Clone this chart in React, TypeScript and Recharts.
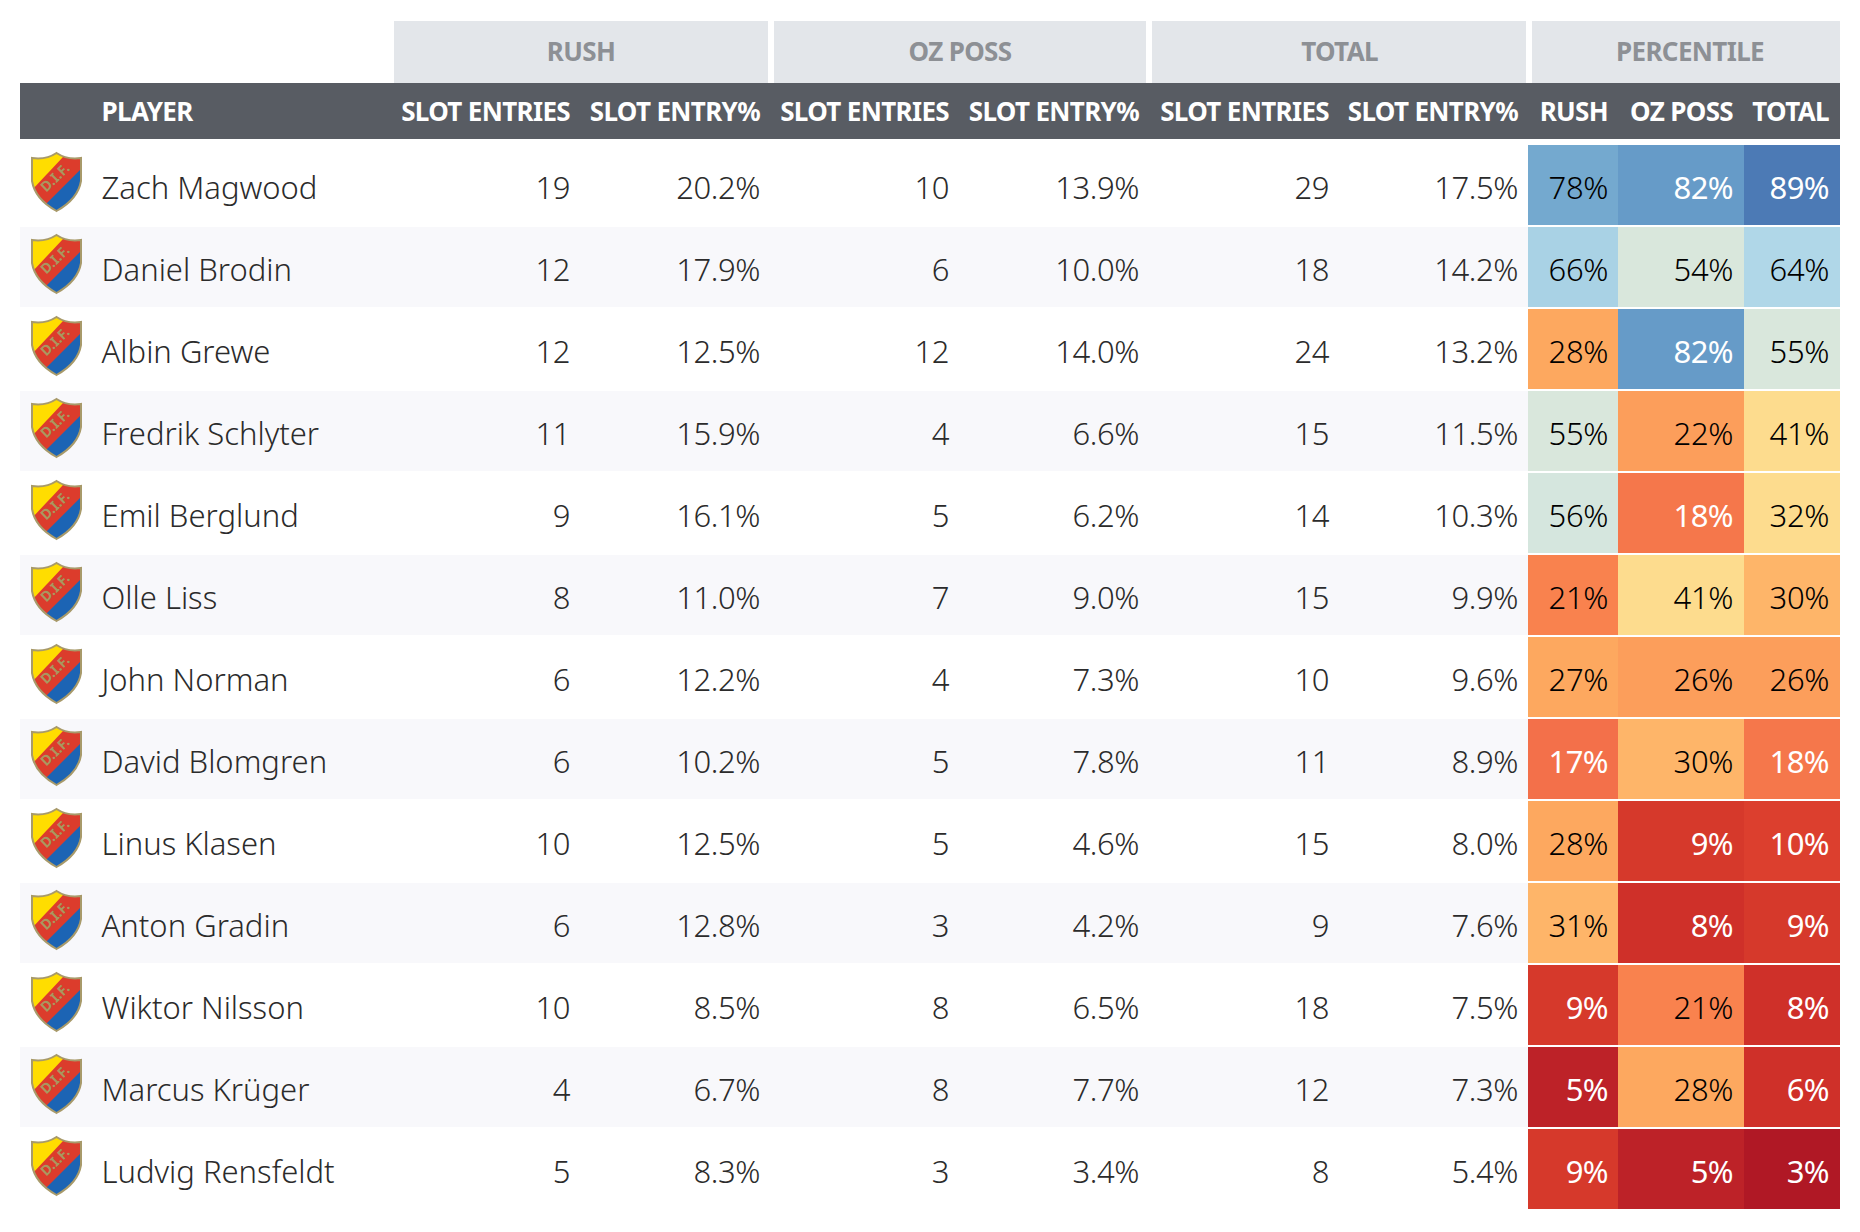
import React from 'react';
import { ScatterChart, Scatter, XAxis, YAxis } from 'recharts';

const players = ['Zach Magwood', 'Daniel Brodin', 'Albin Grewe', 'Fredrik Schlyter', 'Emil Berglund', 'Olle Liss', 'John Norman', 'David Blomgren', 'Linus Klasen', 'Anton Gradin', 'Wiktor Nilsson', 'Marcus Krüger', 'Ludvig Rensfeldt'];
const rushEntries = [19, 12, 12, 11, 9, 8, 6, 6, 10, 6, 10, 4, 5];
const rushPct = [20.2, 17.9, 12.5, 15.9, 16.1, 11.0, 12.2, 10.2, 12.5, 12.8, 8.5, 6.7, 8.3];
const ozEntries = [10, 6, 12, 4, 5, 7, 4, 5, 5, 3, 8, 8, 3];
const ozPct = [13.9, 10.0, 14.0, 6.6, 6.2, 9.0, 7.3, 7.8, 4.6, 4.2, 6.5, 7.7, 3.4];
const totalEntries = [29, 18, 24, 15, 14, 15, 10, 11, 15, 9, 18, 12, 8];
const totalPct = [17.5, 14.2, 13.2, 11.5, 10.3, 9.9, 9.6, 8.9, 8.0, 7.6, 7.5, 7.3, 5.4];
const rushRank = [78, 66, 28, 55, 56, 21, 27, 17, 28, 31, 9, 5, 9];
const ozRank = [82, 54, 82, 22, 18, 41, 26, 30, 9, 8, 21, 28, 5];
const totalRank = [89, 64, 55, 41, 32, 30, 26, 18, 10, 9, 8, 6, 3];

const subHeaders = ['SLOT ENTRIES', 'SLOT ENTRY%', 'SLOT ENTRIES', 'SLOT ENTRY%', 'SLOT ENTRIES', 'SLOT ENTRY%', 'RUSH', 'OZ POSS', 'TOTAL'];
const groupHeaders = ['RUSH', 'OZ POSS', 'TOTAL', 'PERCENTILE'];

// layout, in px of the 1860 wide page
const W = 1860;
const H = 1232;
const NAME_X = 101.5;
const colRight = [570, 760, 949, 1139, 1329, 1518, 1608, 1733, 1829];
const groupLeft = [394, 774, 1152, 1532];
const groupRight = [768, 1146, 1526, 1840];
const groupLabelX = [581, 960, 1339.5, 1690];
const cellEdges = [[1528, 1618], [1618, 1744], [1744, 1840]];
const FONT = '"Noto Sans", sans-serif';

const stops: [number, string][] = [
  [3, '#b01825'], [5, '#bd2228'], [8, '#cf3029'], [9, '#d6392b'], [10, '#dc3f2e'], [17, '#f3704a'],
  [18, '#f5774b'], [21, '#f9824e'], [26, '#fc9e5b'], [28, '#fda85f'], [31, '#feb569'], [41, '#fddc8e'],
  [55, '#d9e7dc'], [56, '#d5e6de'], [64, '#b0d7e8'], [66, '#a9d2e5'], [78, '#74a9cf'], [82, '#669bc8'], [89, '#4c7ab5'],
];
const heat = (v: number) => (stops.find(s => s[0] >= v) || stops[stops.length - 1])[1];
const heatText = (v: number) => (v < 21 || v >= 80 ? '#fff' : '#000');

const rows = (values: number[], x: number) => players.map((player, i) => ({ player, x, value: values[i], i }));

const textStyle = { fontFamily: FONT, fontSize: 31, fontWeight: 350, letterSpacing: -0.4 };
const nameStyle = { ...textStyle, letterSpacing: 0 };
const whiteStyle = { ...textStyle, fontWeight: 400, letterSpacing: -0.6 };
const headStyle = { fontFamily: FONT, fontSize: 26, fontWeight: 700, letterSpacing: -0.65 };

const NumberCell = (fmt: (v: number) => string) => (props: any) => (
  <text x={props.cx} y={props.cy + 14} textAnchor="end" fill="#2b2b2b" style={textStyle}>{fmt(props.payload.value)}</text>
);

const HeatCell = (col: number) => (props: any) => {
  const [l, r] = cellEdges[col];
  const v = props.payload.value;
  const color = heatText(v);
  return (
    <g>
      <rect x={l} y={props.cy - 40} width={r - l} height={80} fill={heat(v)} />
      <text x={colRight[6 + col]} y={props.cy + 14} textAnchor="end" fill={color} style={color === '#fff' ? whiteStyle : textStyle}>{v}%</text>
    </g>
  );
};

const Stripe = (props: any) =>
  props.payload.i % 2 === 1 ? <rect x={20} y={props.cy - 40} width={1508} height={80} fill="#f8f8fb" /> : <g />;

const Shield = ({ x, y, id }: { x: number; y: number; id: string }) => {
  const outline = 'M24.5 0 Q35 7 49 5 L49 28 Q46 46 24.5 58 Q3 46 0 28 L0 5 Q14 7 24.5 0 Z';
  return (
    <g transform={`translate(${x},${y})`}>
      <clipPath id={id}><path d={outline} /></clipPath>
      <g clipPath={`url(#${id})`}>
        <rect x={0} y={0} width={49} height={58} fill="#ffdd00" />
        <path d="M0 37 L31 4 L49 0 L49 58 L0 58 Z" fill="#dc3c2c" />
        <path d="M14 51 L49 16 L49 58 L14 58 Z" fill="#1c64b4" />
      </g>
      <path d={outline} fill="none" stroke="#a89a6a" strokeWidth={2} />
      <text transform="translate(26.5,28) rotate(-44)" textAnchor="middle" fill="#a89860" fontFamily={FONT} fontSize={14} fontWeight={700}>D.I.F.</text>
    </g>
  );
};

const PlayerTick = (props: any) => (
  <g>
    <Shield x={32} y={props.y - 32} id={`shield-${props.index}`} />
    <text x={NAME_X} y={props.y + 14} fill="#2b2b2b" style={nameStyle}>{props.payload.value}</text>
  </g>
);

// one axis carries the three kinds of header: player, column, group
const headerTicks = [NAME_X, ...colRight, ...groupLabelX];

const HeaderTick = (props: any) => {
  const i = props.index;
  const x = props.payload.value;
  if (i === 0) {
    return <text x={x} y={121} fill="#fff" style={headStyle}>PLAYER</text>;
  }
  if (i <= subHeaders.length) {
    return <text x={x} y={121} textAnchor="end" fill="#fff" style={headStyle}>{subHeaders[i - 1]}</text>;
  }
  const g = i - subHeaders.length - 1;
  return (
    <g>
      <rect x={groupLeft[g]} y={21} width={groupRight[g] - groupLeft[g]} height={62} fill="#e3e6ea" />
      <text x={x} y={61} textAnchor="middle" fill="#8d9095" style={headStyle}>{groupHeaders[g]}</text>
    </g>
  );
};

export default function App() {
  return (
    <div style={{ position: 'absolute', left: 0, top: 0, width: W, height: H, background: '#fff' }}>
      <ScatterChart width={W} height={H} margin={{ top: 143, right: 0, bottom: 22, left: 0 }}>
        <rect x={20} y={83} width={1820} height={56} fill="#585c63" />
        <XAxis type="number" dataKey="x" orientation="top" domain={[1, W]} ticks={headerTicks} interval={0} height={1} axisLine={false} tickLine={false} tick={<HeaderTick />} />
        <YAxis type="category" dataKey="player" width={1} reversed axisLine={false} tickLine={false} interval={0} tick={<PlayerTick />} allowDuplicatedCategory={false} />
        <Scatter data={rows(rushEntries, 1)} isAnimationActive={false} shape={<Stripe />} />
        <Scatter data={rows(rushEntries, colRight[0])} isAnimationActive={false} shape={NumberCell(v => String(v))} />
        <Scatter data={rows(rushPct, colRight[1])} isAnimationActive={false} shape={NumberCell(v => `${v.toFixed(1)}%`)} />
        <Scatter data={rows(ozEntries, colRight[2])} isAnimationActive={false} shape={NumberCell(v => String(v))} />
        <Scatter data={rows(ozPct, colRight[3])} isAnimationActive={false} shape={NumberCell(v => `${v.toFixed(1)}%`)} />
        <Scatter data={rows(totalEntries, colRight[4])} isAnimationActive={false} shape={NumberCell(v => String(v))} />
        <Scatter data={rows(totalPct, colRight[5])} isAnimationActive={false} shape={NumberCell(v => `${v.toFixed(1)}%`)} />
        <Scatter data={rows(rushRank, colRight[6])} isAnimationActive={false} shape={HeatCell(0)} />
        <Scatter data={rows(ozRank, colRight[7])} isAnimationActive={false} shape={HeatCell(1)} />
        <Scatter data={rows(totalRank, colRight[8])} isAnimationActive={false} shape={HeatCell(2)} />
      </ScatterChart>
    </div>
  );
}
